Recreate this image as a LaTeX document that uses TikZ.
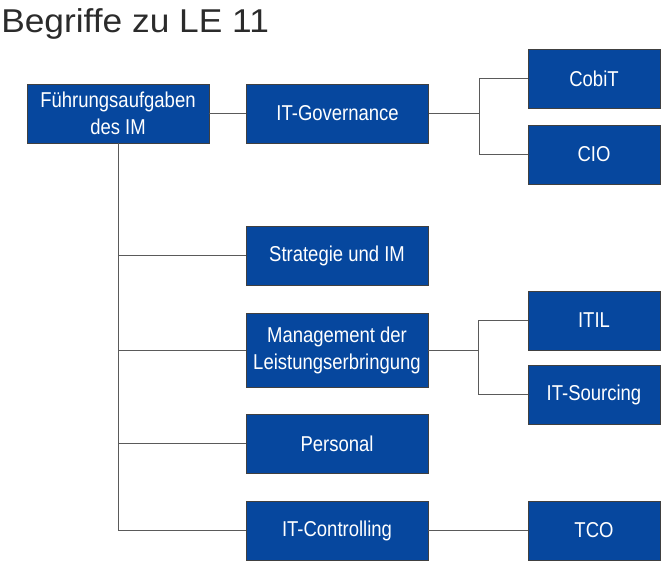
\documentclass[tikz,border=0pt]{standalone}
\usepackage{fontspec}
\setmainfont{Liberation Sans}
\newfontfamily\boxfont[FakeStretch=0.86]{Liberation Sans}
\newfontfamily\titlefont[FakeStretch=1.07]{Liberation Sans}
\usetikzlibrary{positioning}
\definecolor{leBlue}{RGB}{6,71,158}
\definecolor{leBorder}{RGB}{64,64,64}
\definecolor{leLine}{RGB}{90,90,90}
\definecolor{leTitle}{RGB}{43,43,43}
\tikzset{every picture/.style={semithick}}
\tikzset{
    topic/.style={draw=leBorder, fill=leBlue, text=white, minimum width=182pt, minimum height=59pt,
        inner sep=0pt, align=center, font=\boxfont\fontsize{21.5}{27}\selectfont},
    subtopic/.style={topic, minimum width=132pt},
    link/.style={draw=leLine, thin}
}

\begin{document}
\begin{tikzpicture}[x=1pt, y=-1pt]
        \useasboundingbox (0,0) rectangle (666,563);
        \node[anchor=base west, text=leTitle, font=\titlefont\fontsize{33}{40}\selectfont, inner sep=0pt] (title) at (1,32) {Begriffe zu LE 11};
        % main column
        \node[topic] (fuehrung) at (118,113.5) {F\"uhrungsaufgaben\\des IM};
        \node[topic, right=37pt of fuehrung] (gov) {IT-Governance};
        \node[topic] (strat) at (337,255.5) {Strategie und IM};
        \node[topic, minimum height=74pt] (mgmt) at (337,350) {Management der\\Leistungserbringung};
        \node[topic] (pers) at (337,443.5) {Personal};
        \node[topic] (contr) at (337,530.5) {IT-Controlling};
        % right column
        \node[subtopic] (cobit) at (594,78.5) {CobiT};
        \node[subtopic] (cio) at (594,154.5) {CIO};
        \node[subtopic] (itil) at (594,320.5) {ITIL};
        \node[subtopic] (sourcing) at (594,394.5) {IT-Sourcing};
        \node[subtopic] (tco) at (594,530.5) {TCO};
        % connectors
        \draw[link] (fuehrung) -- (gov);
        \draw[link] (fuehrung.south) |- (strat.west);
        \draw[link] (fuehrung.south) |- (mgmt.west);
        \draw[link] (fuehrung.south) |- (pers.west);
        \draw[link] (fuehrung.south) |- (contr.west);
        \draw[link] (gov.east) -- ++(50,0) coordinate (govfork);
        \draw[link] (cobit.west) -| (govfork) |- (cio.west);
        \draw[link] (mgmt.east) -- ++(50,0) coordinate (mgmtfork);
        \draw[link] (itil.west) -| (mgmtfork) |- (sourcing.west);
        \draw[link] (contr) -- (tco);
    \end{tikzpicture}
\end{document}
